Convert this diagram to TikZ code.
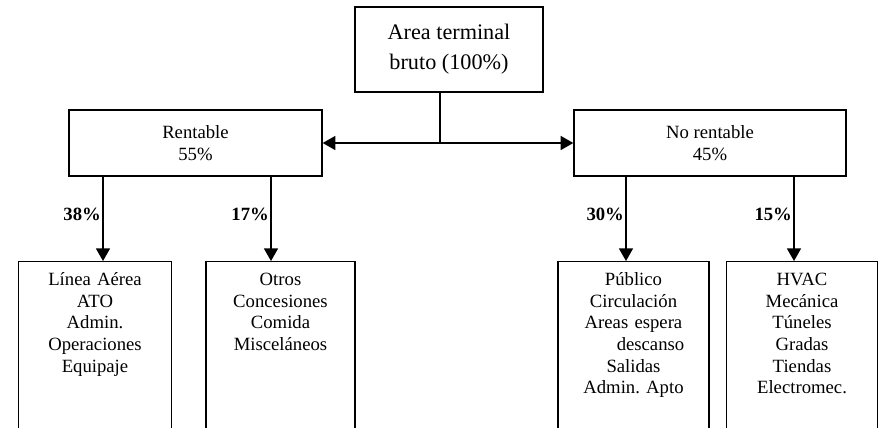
\documentclass[tikz,border=0pt]{standalone}
\usepackage{fontspec}
\setmainfont{Liberation Serif}
\usetikzlibrary{arrows.meta}

\tikzset{
  box/.style={rectangle, draw, align=center, minimum height=1.65cm},
  leaf/.style={rectangle, draw, align=center, anchor=north, inner ysep=7pt,
               text height=10pt, text depth=97pt},
  pct/.style={anchor=east, inner sep=1pt, font=\fontsize{13.3}{15.4}\selectfont\bfseries},
  arr/.style={-{Triangle[length=9pt, width=10pt]}}
}

\begin{document}
\begin{tikzpicture}[font=\fontsize{13.3}{15.4}\selectfont]
\useasboundingbox (0,0) rectangle (21.975,-10.675);
\begin{scope}[line width=1pt]

  % total area
  \node[box, minimum width=4.7cm, minimum height=2.125cm,
        font=\fontsize{15.8}{21}\selectfont] (area)
        at (11.225,-1.2375) {Area terminal\\bruto (100\%)\rule[-4pt]{0pt}{4pt}};

  % rentable / no rentable
  \node[box, minimum width=6.325cm] (rent) at (4.8875,-3.575) {Rentable\\55\%};
  \node[box, minimum width=6.8cm] (norent) at (17.75,-3.575) {No rentable\\45\%};

  \coordinate (jn) at (11.0,-3.575);
  \draw (area.south -| jn) -- (jn);
  \draw[arr] (jn) -- (rent.east);
  \draw[arr] (jn) -- (norent.west);

  % detail boxes
  \node[leaf, text width=3.6cm] (linea) at (2.375,-6.525)
       {L\'inea A\'erea\\ATO\\Admin.\\Operaciones\\Equipaje};
  \node[leaf, text width=3.5cm] (otros) at (7.0125,-6.525)
       {Otros\\Concesiones\\Comida\\Miscel\'aneos};
  \node[leaf, text width=3.55cm] (publico) at (15.8375,-6.525)
       {P\'ublico\\Circulaci\'on\\Areas espera\\\hspace*{0.85cm}descanso\\Salidas\\Admin.\ Apto};
  \node[leaf, text width=3.55cm] (hvac) at (20.05,-6.525)
       {HVAC\\Mec\'anica\\T\'uneles\\Gradas\\Tiendas\\Electromec.};

  % split arrows
  \coordinate (a1) at (2.575,0);
  \coordinate (a2) at (6.775,0);
  \coordinate (a3) at (15.65,0);
  \coordinate (a4) at (19.85,0);

  \draw[arr] (rent.south -| a1) -- node[pct, pos=0.45] {38\%} (linea.north -| a1);
  \draw[arr] (rent.south -| a2) -- node[pct, pos=0.45] {17\%} (otros.north -| a2);
  \draw[arr] (norent.south -| a3) -- node[pct, pos=0.45] {30\%} (publico.north -| a3);
  \draw[arr] (norent.south -| a4) -- node[pct, pos=0.45] {15\%} (hvac.north -| a4);

\end{scope}
\end{tikzpicture}
\end{document}
